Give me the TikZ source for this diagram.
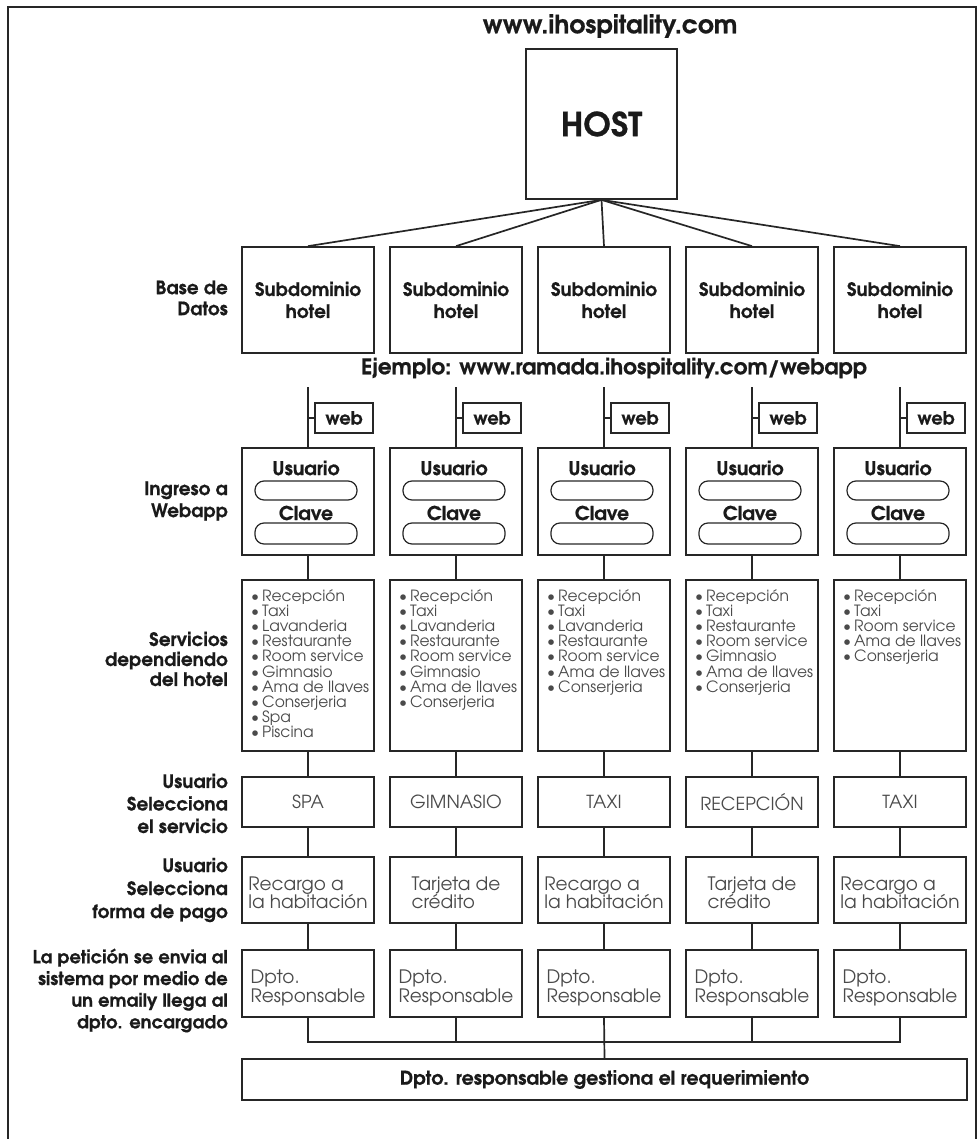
\documentclass[tikz,border=0pt]{standalone}
\usepackage{fontspec}
\setmainfont[BoldFeatures={FakeBold=0.6}]{TeX Gyre Adventor}
\usetikzlibrary{calc}

\definecolor{ink}{HTML}{1A1A1A}
\definecolor{soft}{HTML}{4A4A4A}
\definecolor{edge}{HTML}{262626}

\tikzset{
  frameline/.style={draw=edge, line width=1.8pt},
  cell/.style={draw=edge, line width=1.7pt, inner sep=0pt, minimum width=132pt},
  link/.style={draw=edge, line width=1.7pt},
  field/.style={draw=edge, line width=1.2pt, rounded corners=9pt, inner sep=0pt, minimum width=102pt},
  lbl/.style={text=ink, align=right, anchor=east, inner sep=0pt},
  boldtxt/.style={text=ink, font=\fontsize{18.5}{22}\selectfont\bfseries, align=center},
  thin/.style={text=soft, font=\fontsize{18}{19}\selectfont},
  item/.style={text=soft, anchor=base west, inner sep=0pt, font=\fontsize{15.5}{15}\selectfont},
}

\begin{document}
\begin{tikzpicture}[x=1pt, y=-1pt]
\useasboundingbox (0,0) rectangle (979,1139);

% outer frame, open at the bottom edge
\draw[frameline] (8,1145) -- (8,7) -- (976,7) -- (976,1145);

% host
\node[text=ink, font=\fontsize{25}{26}\selectfont\bfseries] (url) at (610,26) {www.ihospitality.com};
\node[draw=edge, line width=1.7pt, minimum width=151pt, minimum height=150pt, inner sep=0pt,
      text=ink, font=\fontsize{33}{34}\selectfont\bfseries] (host) at (601.5,124) {HOST};

% row labels
\node[lbl, font=\fontsize{18.5}{21}\selectfont\bfseries] (lab1) at (228,298) {Base de\\Datos};
\node[lbl, font=\fontsize{18.5}{22}\selectfont\bfseries] (lab2) at (228,501) {Ingreso a\\Webapp};
\node[lbl, font=\fontsize{18.5}{20}\selectfont\bfseries] (lab3) at (228,659) {Servicios\\dependiendo\\del hotel};
\node[lbl, font=\fontsize{18.5}{22.5}\selectfont\bfseries] (lab4) at (228,803.5) {Usuario\\Selecciona\\el servicio};
\node[lbl, font=\fontsize{18.5}{23}\selectfont\bfseries] (lab5) at (228,890) {Usuario\\Selecciona\\forma de pago};
\node[lbl, font=\fontsize{18}{21.7}\selectfont\bfseries] (lab6) at (228,990.5) {La petición se envia al\\sistema por medio de\\un emaily llega al\\dpto. encargado};

\node[text=ink, font=\fontsize{21.5}{24}\selectfont\bfseries] (example) at (614,368) {Ejemplo: www.ramada.ihospitality.com/webapp};

% one column per hotel
\foreach \c/\cx/\sel/\pay/\svc in {
  1/308/SPA/{Recargo a\\la habitación}/{Recepción,Taxi,Lavanderia,Restaurante,Room service,Gimnasio,Ama de llaves,Conserjeria,Spa,Piscina},
  2/456/GIMNASIO/{Tarjeta de\\crédito}/{Recepción,Taxi,Lavanderia,Restaurante,Room service,Gimnasio,Ama de llaves,Conserjeria},
  3/604/TAXI/{Recargo a\\la habitación}/{Recepción,Taxi,Lavanderia,Restaurante,Room service,Ama de llaves,Conserjeria},
  4/752/RECEPCIÓN/{Tarjeta de\\crédito}/{Recepción,Taxi,Restaurante,Room service,Gimnasio,Ama de llaves,Conserjeria},
  5/900/TAXI/{Recargo a\\la habitación}/{Recepción,Taxi,Room service,Ama de llaves,Conserjeria}}
{
  % database subdomain
  \node[cell, minimum height=106pt, boldtxt] (sub\c) at (\cx,300) {Subdominio\\hotel};
  \draw[link] (host.south) -- (sub\c.north);

  % web access stub
  \node[cell, minimum width=58pt, minimum height=30pt, text=ink,
        font=\fontsize{18}{20}\selectfont\bfseries] (web\c) at (\cx+36,418) {web};
  \coordinate (stub\c) at (\cx,387);

  % login form
  \node[cell, minimum height=107pt] (login\c) at (\cx,501.5) {};
  \node[text=ink, font=\fontsize{19}{20}\selectfont\bfseries] (user\c) at (\cx-2,468) {Usuario};
  \node[field, minimum height=19pt] (userfield\c) at (\cx-2,490.5) {};
  \node[text=ink, font=\fontsize{19}{20}\selectfont\bfseries] (key\c) at (\cx-2,513) {Clave};
  \node[field, minimum height=21pt] (keyfield\c) at (\cx-2,533.5) {};
  \draw[link] (stub\c) -- (login\c.north);
  \draw[link] (stub\c |- web\c.west) -- (web\c.west);

  % services offered
  \node[cell, minimum height=171pt] (serv\c) at (\cx,665.5) {};
  \foreach \s [count=\i from 0] in \svc {
    \node[item] (serv\c-\i) at (\cx-57,601+15.2*\i) {\makebox[11pt][l]{\textbullet}\s};
  }
  \draw[link] (login\c.south) -- (serv\c.north);

  % chosen service
  \node[cell, minimum height=50pt, thin] (sel\c) at (\cx,802) {\sel};
  \draw[link] (serv\c.south) -- (sel\c.north);

  % payment method
  \node[cell, minimum height=66pt] (pay\c) at (\cx,890) {};
  \node[thin, align=left, font=\fontsize{18.5}{18.5}\selectfont] (paytxt\c) at (\cx,893) {\pay};
  \draw[link] (sel\c.south) -- (pay\c.north);

  % responsible department
  \node[cell, minimum height=67pt] (dep\c) at (\cx,983.5) {};
  \node[thin, align=left, font=\fontsize{18.5}{19}\selectfont] (deptxt\c) at (\cx,987.5) {Dpto.\\Responsable};
  \draw[link] (pay\c.south) -- (dep\c.north);
}

% collecting bus and final step
\node[draw=edge, line width=1.7pt, minimum width=725pt, minimum height=41pt, inner sep=0pt,
      text=ink, font=\fontsize{19}{20}\selectfont\bfseries] (final) at (604.5,1079.5)
      {Dpto. responsable gestiona el requerimiento};
\coordinate (bus) at (604,1042);
\draw[link] (dep1.south) |- (bus) -| (dep5.south);
\draw[link] (dep2.south) -- (dep2.south |- bus);
\draw[link] (dep4.south) -- (dep4.south |- bus);
\draw[link] (dep3.south) -- (final.north);

\end{tikzpicture}
\end{document}
